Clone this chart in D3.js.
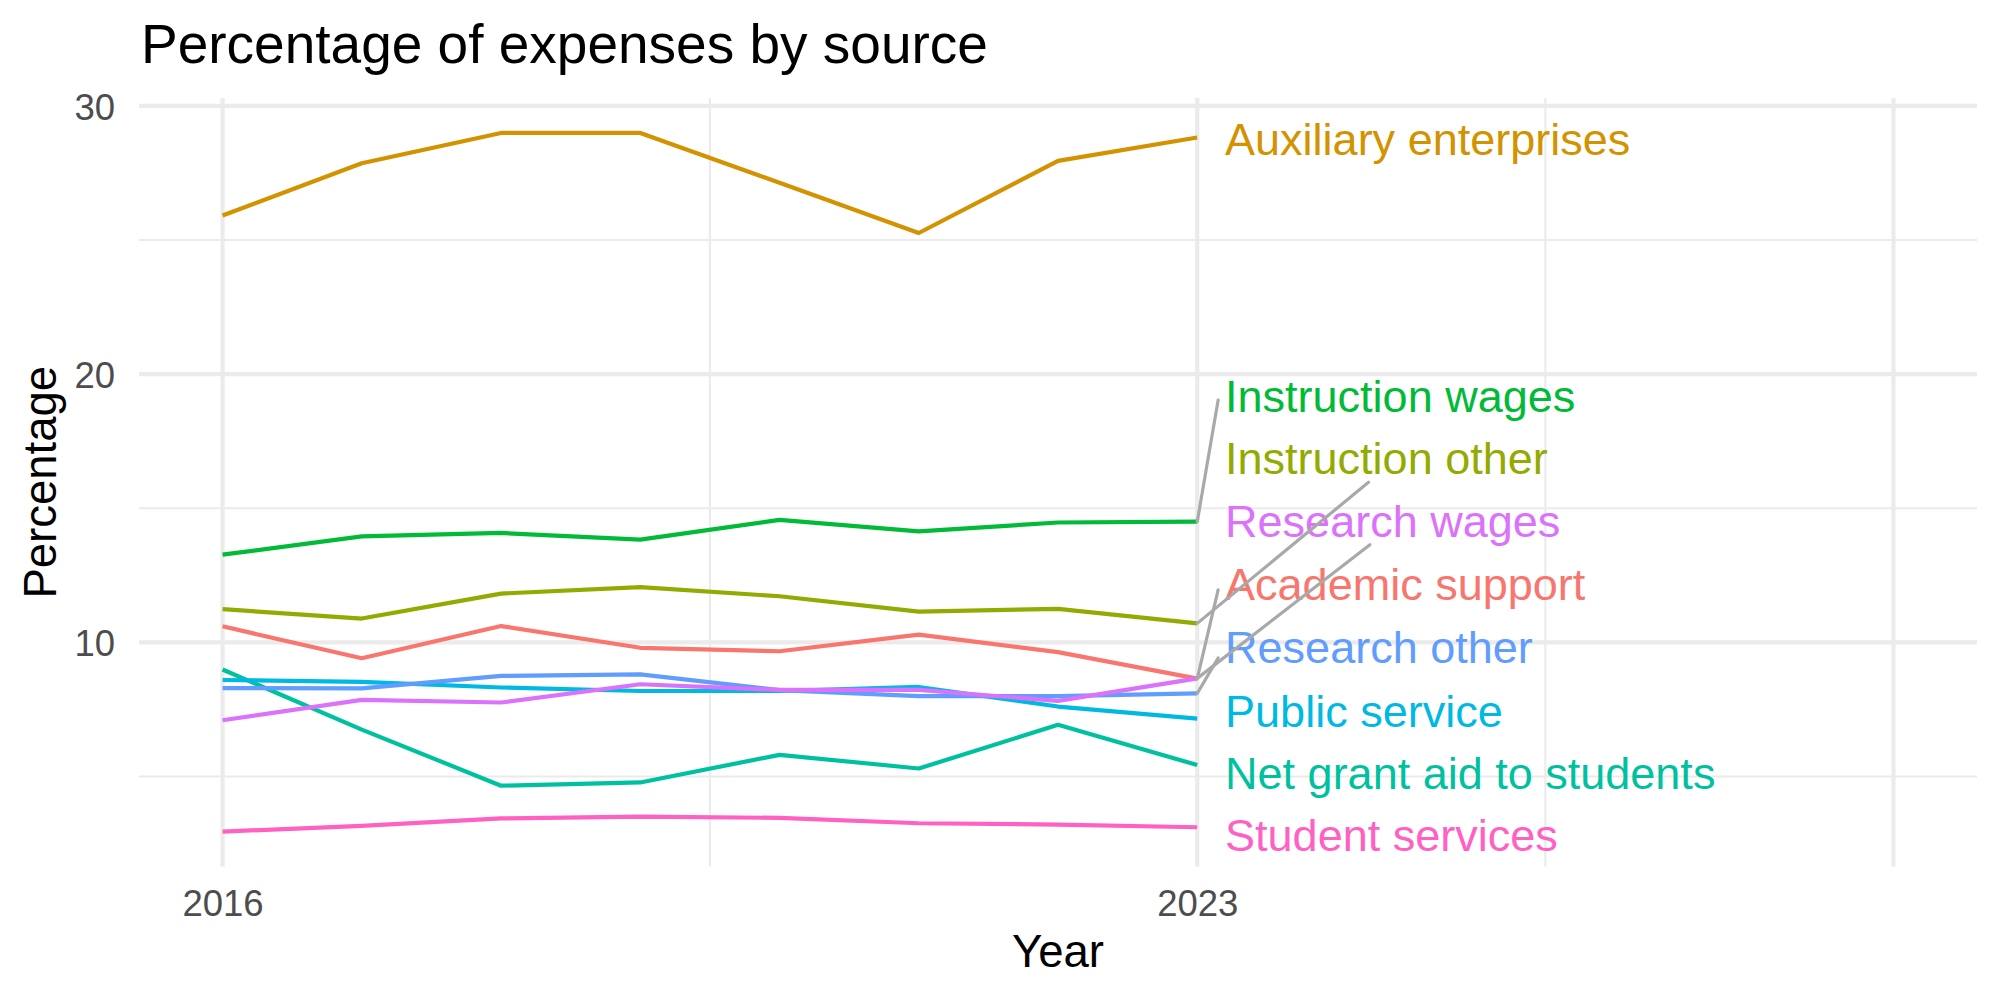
<!DOCTYPE html>
<html>
<head>
<meta charset="utf-8">
<script src="https://cdn.jsdelivr.net/npm/d3@7"></script>
<style>
  html, body { margin: 0; padding: 0; background: #fff; }
  svg text { font-family: "Liberation Sans", Arial, Helvetica, sans-serif; }
</style>
</head>
<body>
<svg id="chart" width="2000" height="1000"></svg>
<script>
const years = [2016, 2017, 2018, 2019, 2020, 2021, 2022, 2023]

const categories = [
  "Academic support",
  "Auxiliary enterprises",
  "Instruction other",
  "Instruction wages",
  "Net grant aid to students",
  "Public service",
  "Research other",
  "Research wages",
  "Student services"
]

const academicSupport = [10.60, 9.41, 10.61, 9.80, 9.67, 10.29, 9.64, 8.65]
const auxiliaryEnterprises = [25.91, 27.86, 28.99, 28.99, 27.13, 25.26, 27.95, 28.82]
const instructionOther = [11.24, 10.89, 11.82, 12.06, 11.72, 11.15, 11.25, 10.71]
const instructionWages = [13.27, 13.95, 14.08, 13.83, 14.57, 14.14, 14.47, 14.50]
const netGrantAid = [8.99, 6.75, 4.66, 4.78, 5.81, 5.30, 6.93, 5.43]
const publicService = [8.60, 8.53, 8.32, 8.19, 8.19, 8.34, 7.61, 7.16]
const researchOther = [8.30, 8.29, 8.75, 8.81, 8.22, 8.00, 8.00, 8.10]
const researchWages = [7.10, 7.86, 7.76, 8.44, 8.23, 8.23, 7.82, 8.66]
const studentServices = [2.95, 3.16, 3.44, 3.51, 3.46, 3.26, 3.21, 3.11]

const seriesValues = [
  academicSupport, auxiliaryEnterprises, instructionOther, instructionWages,
  netGrantAid, publicService, researchOther, researchWages, studentServices
]

// ggplot default hue palette, 9 levels
const colors = ["#F8766D", "#D39200", "#93AA00", "#00BA38", "#00C19F", "#00B9E3", "#619CFF", "#DB72FB", "#FF61C3"]

// repelled label positions (value units) and where their leader segments end
const labelYear = 2023.2
const labelValues = [12.19, 28.77, 16.88, 19.19, 5.13, 7.46, 9.83, 14.54, 2.82]
const segmentEndYears = [2023.15, null, 2024.23, 2023.15, null, null, 2023.15, 2024.24, null]
const segmentEndValues = [11.96, null, 15.97, 19.03, null, null, 9.42, 13.64, null]

const xLimits = [2016, 2028]
const xBreaks = [2016, 2023, 2028]
const xLabels = ["2016", "2023", ""]
const xMinorBreaks = [2019.5, 2025.5]
const yBreaks = [10, 20, 30]
const yMinorBreaks = [5, 15, 25]

const title = "Percentage of expenses by source"
const xTitle = "Year"
const yTitle = "Percentage"

const panel = { left: 139, right: 1977, top: 98, bottom: 866.5 }

const svg = d3.select("#chart")

const expand = ([a, b], m = 0.05) => [a - (b - a) * m, b + (b - a) * m]

const allValues = seriesValues.flat()
const scaleX = d3.scaleLinear()
  .domain(expand(xLimits))
  .range([panel.left, panel.right])
const scaleY = d3.scaleLinear()
  .domain(expand([d3.min(allValues), d3.max(allValues)]))
  .range([panel.bottom, panel.top])

// grid
const grid = svg.append("g")
grid.selectAll(".ymin").data(yMinorBreaks).enter().append("line")
  .attr("x1", panel.left).attr("x2", panel.right)
  .attr("y1", d => scaleY(d)).attr("y2", d => scaleY(d))
  .attr("stroke", "#EBEBEB").attr("stroke-width", 2.1)
grid.selectAll(".xmin").data(xMinorBreaks).enter().append("line")
  .attr("y1", panel.top).attr("y2", panel.bottom)
  .attr("x1", d => scaleX(d)).attr("x2", d => scaleX(d))
  .attr("stroke", "#EBEBEB").attr("stroke-width", 2.1)
grid.selectAll(".ymaj").data(yBreaks).enter().append("line")
  .attr("x1", panel.left).attr("x2", panel.right)
  .attr("y1", d => scaleY(d)).attr("y2", d => scaleY(d))
  .attr("stroke", "#EBEBEB").attr("stroke-width", 4.2)
grid.selectAll(".xmaj").data(xBreaks).enter().append("line")
  .attr("y1", panel.top).attr("y2", panel.bottom)
  .attr("x1", d => scaleX(d)).attr("x2", d => scaleX(d))
  .attr("stroke", "#EBEBEB").attr("stroke-width", 4.2)

// axes, ggplot-minimal style (no ticks or domain)
const yAxis = svg.append("g")
  .attr("transform", `translate(${panel.left - 24},0)`)
  .call(d3.axisLeft(scaleY).tickValues(yBreaks).tickSize(0).tickPadding(0))
yAxis.select(".domain").remove()
yAxis.selectAll("text")
  .attr("font-size", "36.5px").attr("fill", "#4D4D4D")
  .attr("font-family", "Liberation Sans, Arial, sans-serif")
  .attr("dy", "0.37em")

const xAxis = svg.append("g")
  .attr("transform", `translate(0,${panel.bottom})`)
  .call(d3.axisBottom(scaleX).tickValues(xBreaks).tickFormat((d, i) => xLabels[i]).tickSize(0).tickPadding(0))
xAxis.select(".domain").remove()
xAxis.selectAll("text")
  .attr("font-size", "36.5px").attr("fill", "#4D4D4D")
  .attr("font-family", "Liberation Sans, Arial, sans-serif")
  .attr("dy", null)
  .attr("y", 49.5)

// lines
const line = d3.line()
  .x((d, i) => scaleX(years[i]))
  .y(d => scaleY(d))

svg.append("g").selectAll("path")
  .data(seriesValues)
  .enter()
  .append("path")
  .attr("fill", "none")
  .attr("stroke", (d, i) => colors[i])
  .attr("stroke-width", 4.2)
  .attr("stroke-linejoin", "round")
  .attr("d", line)

// end labels
svg.append("g").selectAll("text")
  .data(categories)
  .enter()
  .append("text")
  .attr("x", scaleX(labelYear))
  .attr("y", (d, i) => scaleY(labelValues[i]))
  .attr("dy", "0.36em")
  .attr("font-size", "45px")
  .attr("fill", (d, i) => colors[i])
  .text(d => d)

// leader segments
const lastYear = years[years.length - 1]
const segs = categories.map((c, i) => ({ i, ey: segmentEndYears[i], ev: segmentEndValues[i] }))
  .filter(s => s.ey !== null)
svg.append("g").selectAll("line")
  .data(segs)
  .enter()
  .append("line")
  .attr("x1", scaleX(lastYear))
  .attr("y1", s => scaleY(seriesValues[s.i][seriesValues[s.i].length - 1]))
  .attr("x2", s => scaleX(s.ey))
  .attr("y2", s => scaleY(s.ev))
  .attr("stroke", "#A9A9A9")
  .attr("stroke-width", 3.2)
  .attr("stroke-linecap", "round")

// titles
svg.append("text")
  .attr("x", 141)
  .attr("y", 63)
  .attr("font-size", "55px")
  .attr("fill", "#000")
  .text(title)

svg.append("text")
  .attr("x", (panel.left + panel.right) / 2)
  .attr("y", 967)
  .attr("text-anchor", "middle")
  .attr("font-size", "45.5px")
  .attr("fill", "#000")
  .text(xTitle)

svg.append("text")
  .attr("transform", `translate(56,${(panel.top + panel.bottom) / 2}) rotate(-90)`)
  .attr("text-anchor", "middle")
  .attr("font-size", "45.5px")
  .attr("fill", "#000")
  .text(yTitle)
</script>
</body>
</html>
